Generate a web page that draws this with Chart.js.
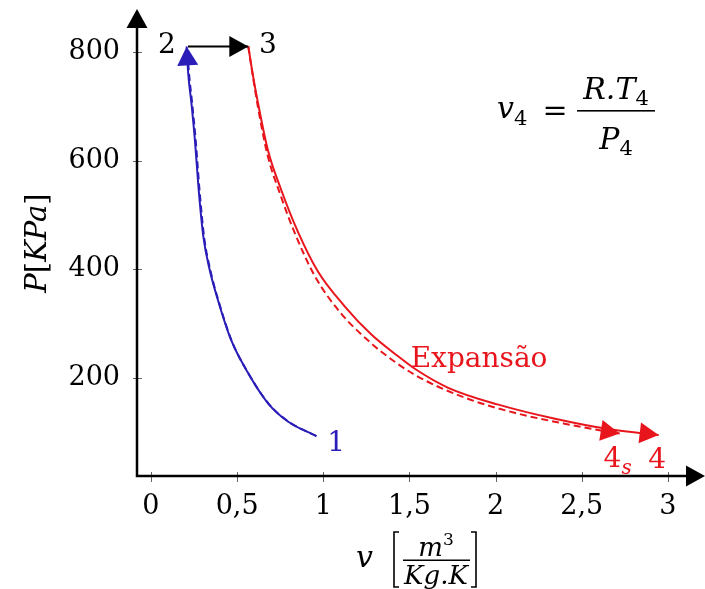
<!DOCTYPE html>
<html>
<head>
<meta charset="utf-8">
<script src="https://cdn.jsdelivr.net/npm/chart.js@4.4.1/dist/chart.umd.min.js"></script>
<style>
  html, body { margin: 0; padding: 0; background: #fff; }
  #wrap { width: 705px; height: 589px; }
</style>
</head>
<body>
<div id="wrap"><canvas id="grafico" width="705" height="589"></canvas></div>
<script>
const xTicks = [0, 0.5, 1, 1.5, 2, 2.5, 3];
const yTicks = [200, 400, 600, 800];

// compressão 1 -> 2 (real e isentrópica)
const compV = [0.96, 0.795, 0.678, 0.562, 0.465, 0.388, 0.34, 0.304, 0.277, 0.255, 0.235, 0.216, 0.207];
const compP = [93, 120, 154, 210, 270, 344, 400, 460, 546, 638, 705, 761, 810];
const compVs = [0.96, 0.797, 0.682, 0.566, 0.469, 0.392, 0.345, 0.309, 0.282, 0.26, 0.24, 0.221, 0.212];
const compPs = [93, 120, 153, 208, 268, 342, 398, 458, 545, 636, 703, 760, 800];

// aquecimento 2 -> 3
const aqV = [0.215, 0.565];
const aqP = [810, 810];

// expansão 3 -> 4 e 3 -> 4s
const expV = [0.565, 0.59, 0.62, 0.678, 0.756, 0.853, 0.969, 1.124, 1.279, 1.434, 1.531, 1.725, 2.016, 2.345, 2.655, 2.946];
const expP = [810, 760, 708, 620, 546, 469, 396, 332, 280, 240, 217, 182, 151, 125, 106, 95];
const expVs = [0.565, 0.59, 0.62, 0.675, 0.75, 0.833, 0.95, 1.1, 1.27, 1.33, 1.53, 1.82, 2.11, 2.4, 2.62, 2.72];
const expPs = [810, 758, 700, 612, 538, 468, 388, 320, 266, 250, 206, 164, 136, 116, 103, 98];

const AZUL = "#2a1db8";
const VERMELHO = "#e8161c";
const SERIF = "'DejaVu Serif', serif";

function pares(vs, ps) {
  return vs.map((v, i) => ({ x: v, y: ps[i] }));
}

// rótulos dos estados, em coordenadas (v, P)
const rotulos = [
  { t: "2", v: 0.093, p: 811, cor: "#000" },
  { t: "3", v: 0.679, p: 811, cor: "#000" },
  { t: "1", v: 1.074, p: 80, cor: AZUL }
];

function desenharRuns(ctx, runs, x, y, centro) {
  let w = 0;
  runs.forEach(r => { ctx.font = r.f; r.w = ctx.measureText(r.t).width; w += r.w; });
  let cx = centro ? x - w / 2 : x;
  ctx.textAlign = "left";
  ctx.textBaseline = "alphabetic";
  runs.forEach(r => { ctx.font = r.f; ctx.fillText(r.t, cx, y + (r.dy || 0)); cx += r.w; });
  return w;
}

function seta(ctx, tip, prev, cor) {
  const a = Math.atan2(tip.y - prev.y, tip.x - prev.x);
  const L = 19, H = 10.5;
  ctx.save();
  ctx.translate(tip.x, tip.y);
  ctx.rotate(a);
  ctx.fillStyle = cor;
  ctx.beginPath();
  ctx.moveTo(0, 0);
  ctx.lineTo(-L, -H);
  ctx.lineTo(-L, H);
  ctx.closePath();
  ctx.fill();
  ctx.restore();
}

const eixosPlugin = {
  id: "eixos",
  beforeDatasetsDraw(chart) {
    const { ctx, chartArea: a, scales: { x, y } } = chart;
    ctx.save();
    // marcas
    ctx.strokeStyle = "#666";
    ctx.lineWidth = 1;
    xTicks.forEach(t => {
      const px = Math.round(x.getPixelForValue(t)) + 0.5;
      ctx.beginPath(); ctx.moveTo(px, a.bottom - 4); ctx.lineTo(px, a.bottom + 6); ctx.stroke();
    });
    yTicks.forEach(t => {
      const py = Math.round(y.getPixelForValue(t)) + 0.5;
      ctx.beginPath(); ctx.moveTo(a.left - 4, py); ctx.lineTo(a.left + 5, py); ctx.stroke();
    });
    // eixos
    ctx.strokeStyle = "#000";
    ctx.lineWidth = 2.5;
    ctx.beginPath();
    ctx.moveTo(a.left, a.top + 10);
    ctx.lineTo(a.left, a.bottom);
    ctx.lineTo(a.right - 10, a.bottom);
    ctx.stroke();
    seta(ctx, { x: a.right, y: a.bottom }, { x: a.left, y: a.bottom }, "#000");
    seta(ctx, { x: a.left, y: a.top }, { x: a.left, y: a.bottom }, "#000");
    ctx.restore();
  },
  afterDatasetsDraw(chart) {
    const { ctx, scales: { x, y } } = chart;
    ctx.save();
    chart.data.datasets.forEach((ds, i) => {
      if (!ds.seta) return;
      const pts = chart.getDatasetMeta(i).data;
      const tip = pts[pts.length - 1], prev = pts[pts.length - 2];
      seta(ctx, tip, prev, ds.borderColor);
    });

    // rótulos dos estados
    ctx.textAlign = "center";
    ctx.textBaseline = "middle";
    ctx.font = "28px " + SERIF;
    rotulos.forEach(r => {
      ctx.fillStyle = r.cor;
      ctx.fillText(r.t, x.getPixelForValue(r.v), y.getPixelForValue(r.p));
    });

    ctx.fillStyle = VERMELHO;
    ctx.textAlign = "center";
    ctx.textBaseline = "alphabetic";
    ctx.font = "28px " + SERIF;
    ctx.fillText("Expansão", x.getPixelForValue(1.904), y.getPixelForValue(220));
    ctx.fillText("4", x.getPixelForValue(2.937), y.getPixelForValue(34));
    desenharRuns(ctx, [
      { t: "4", f: "28px " + SERIF },
      { t: "s", f: "italic 20px " + SERIF, dy: 7 }
    ], x.getPixelForValue(2.708), y.getPixelForValue(36), true);

    // fórmula v4 = R.T4 / P4
    ctx.fillStyle = "#000";
    desenharRuns(ctx, [
      { t: "v", f: "italic 30px " + SERIF },
      { t: "4", f: "21px " + SERIF, dy: 7 }
    ], 497, 118, false);
    ctx.font = "30px " + SERIF;
    ctx.textAlign = "center";
    ctx.fillText("=", 555, 120);
    ctx.fillRect(577, 110, 78, 1.6);
    desenharRuns(ctx, [
      { t: "R.T", f: "italic 30px " + SERIF },
      { t: "4", f: "21px " + SERIF, dy: 6 }
    ], 616, 99, true);
    desenharRuns(ctx, [
      { t: "P", f: "italic 30px " + SERIF },
      { t: "4", f: "21px " + SERIF, dy: 6 }
    ], 616, 149, true);

    // título do eixo y
    ctx.save();
    ctx.translate(46, 243);
    ctx.rotate(-Math.PI / 2);
    desenharRuns(ctx, [
      { t: "P", f: "italic 29px " + SERIF },
      { t: "[", f: "29px " + SERIF },
      { t: "KPa", f: "italic 29px " + SERIF },
      { t: "]", f: "29px " + SERIF }
    ], 0, 0, true);
    ctx.restore();

    // título do eixo x: v [m3 / Kg.K]
    desenharRuns(ctx, [{ t: "v", f: "italic 30px " + SERIF }], 356, 567, false);
    ctx.strokeStyle = "#000";
    ctx.lineWidth = 1.6;
    ctx.beginPath();
    ctx.moveTo(399, 532); ctx.lineTo(394, 532); ctx.lineTo(394, 587); ctx.lineTo(399, 587);
    ctx.moveTo(471, 532); ctx.lineTo(476, 532); ctx.lineTo(476, 587); ctx.lineTo(471, 587);
    ctx.stroke();
    ctx.fillRect(403, 559.5, 67, 1.5);
    desenharRuns(ctx, [
      { t: "m", f: "italic 26px " + SERIF },
      { t: "3", f: "17px " + SERIF, dy: -11 }
    ], 436, 556, true);
    desenharRuns(ctx, [{ t: "Kg.K", f: "italic 26px " + SERIF }], 436, 584, true);
    ctx.restore();
  }
};

const ctx = document.getElementById("grafico").getContext("2d");
new Chart(ctx, {
  type: "scatter",
  data: {
    datasets: [
      { data: pares(compVs, compPs), borderColor: AZUL, borderWidth: 2, borderDash: [7, 4], cubicInterpolationMode: "monotone" },
      { data: pares(compV, compP), borderColor: AZUL, borderWidth: 2, cubicInterpolationMode: "monotone", seta: true },
      { data: pares(aqV, aqP), borderColor: "#000", borderWidth: 2, tension: 0, seta: true },
      { data: pares(expVs, expPs), borderColor: VERMELHO, borderWidth: 2, borderDash: [7, 4], cubicInterpolationMode: "monotone", seta: true },
      { data: pares(expV, expP), borderColor: VERMELHO, borderWidth: 2, cubicInterpolationMode: "monotone", seta: true }
    ]
  },
  options: {
    responsive: false,
    animation: false,
    showLine: true,
    layout: { padding: { top: 9, right: 0, left: 0, bottom: 0 } },
    elements: { point: { radius: 0, hoverRadius: 0 } },
    plugins: { legend: { display: false }, tooltip: { enabled: false } },
    scales: {
      x: {
        type: "linear",
        min: -0.081,
        max: 3.215,
        grid: { display: false, drawTicks: false },
        border: { display: false },
        afterBuildTicks: s => { s.ticks = xTicks.map(v => ({ value: v })); },
        afterFit: s => { s.height = 113; s.paddingLeft = 0; s.paddingRight = 0; },
        ticks: {
          padding: 15,
          color: "#000",
          font: { family: SERIF, size: 27 },
          callback: v => String(v).replace(".", ",")
        }
      },
      y: {
        type: "linear",
        min: 19.7,
        max: 879,
        grid: { display: false, drawTicks: false },
        border: { display: false },
        afterBuildTicks: s => { s.ticks = yTicks.map(v => ({ value: v })); },
        afterFit: s => { s.width = 137; s.paddingTop = 0; s.paddingBottom = 0; },
        ticks: {
          padding: 17,
          color: "#000",
          font: { family: SERIF, size: 27 }
        }
      }
    }
  },
  plugins: [eixosPlugin]
});
</script>
</body>
</html>
